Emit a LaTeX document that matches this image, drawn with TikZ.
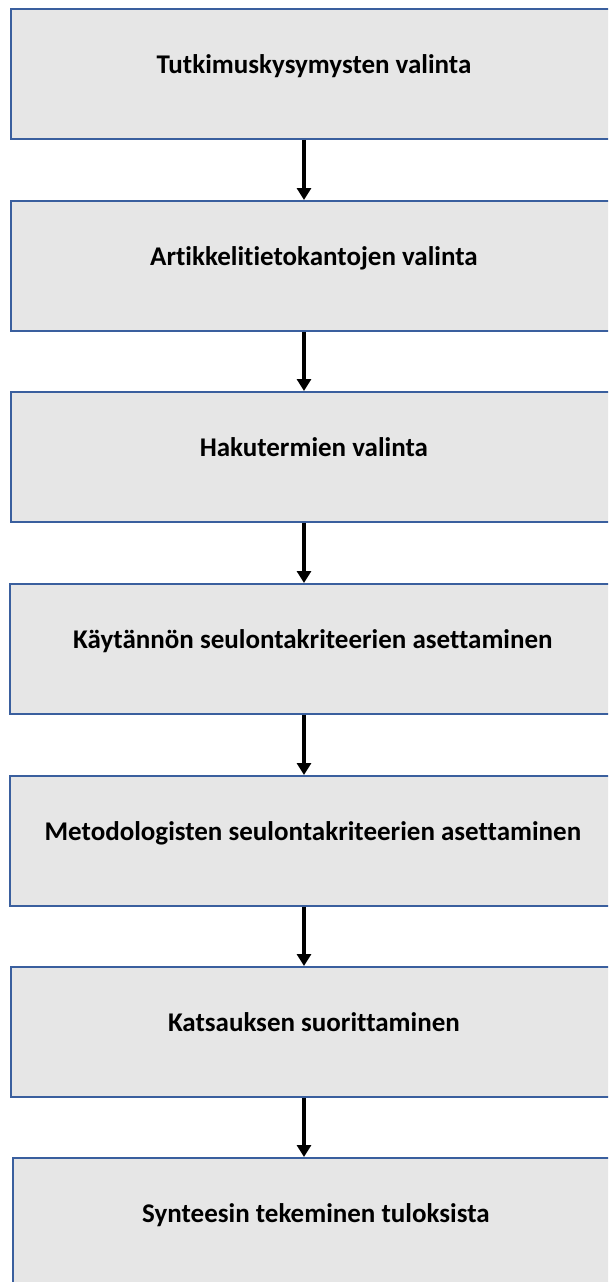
\documentclass[tikz,border=0pt]{standalone}
\usepackage{fontspec}
\setmainfont{Carlito}[Ligatures=NoCommon]
\usetikzlibrary{arrows.meta}
\definecolor{boxfill}{HTML}{E6E6E6}
\definecolor{boxline}{HTML}{3A5F9E}
\begin{document}
\begin{tikzpicture}[x=1pt,y=-1pt,
  stepbox/.style={draw=boxline,fill=boxfill,line width=1.8pt,rectangle,anchor=north west,
    minimum width=606pt,minimum height=130pt,inner sep=0pt,
    font=\fontsize{27}{30}\selectfont\bfseries,text height=13pt,text depth=13pt},
  flow/.style={line width=3.4pt,-{Triangle[width=14pt,length=12pt]}}]
\useasboundingbox (0,0) rectangle (608,1282);
\clip (0,0) rectangle (608,1282);
\node[stepbox] (b1) at (10,8) {Tutkimuskysymysten valinta};
\node[stepbox] (b2) at (10,200) {Artikkelitietokantojen valinta};
\node[stepbox] (b3) at (10,391) {Hakutermien valinta};
\node[stepbox] (b4) at (9,583) {Käytännön seulontakriteerien asettaminen};
\node[stepbox] (b5) at (9,775) {Metodologisten seulontakriteerien asettaminen};
\node[stepbox] (b6) at (10,966) {Katsauksen suorittaminen};
\node[stepbox] (b7) at (12,1157) {Synteesin tekeminen tuloksista};
\foreach \a/\b in {b1/b2,b2/b3,b3/b4,b4/b5,b5/b6,b6/b7}{
  \draw[flow] (\a.south -| 304,0) -- (\b.north -| 304,0);
}
\end{tikzpicture}
\end{document}
